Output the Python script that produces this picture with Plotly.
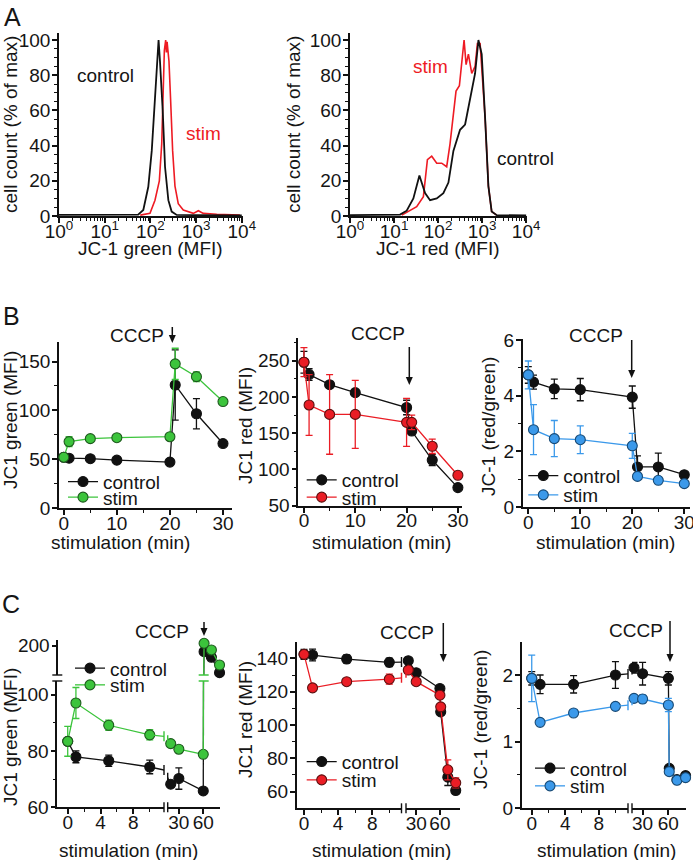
import plotly.graph_objects as go

W, H = 693, 860
def fx(p): return p / W
def fy(p): return 1 - p / H

FONT = "Liberation Sans, Arial, Helvetica, sans-serif"
TXT = "#151515"
BLK = "#111111"
GREEN, GREEN_EDGE = "#3cc43c", "#1e5a1e"
RED, RED_EDGE = "#ea1d25", "#5c1010"
BLUE, BLUE_EDGE = "#3b99ea", "#184a75"
HIST_RED = "#ee1b24"

# ---------------- Panel A: flow histograms ----------------
A_green_ctrl_mfi = [1, 10, 30, 54, 70, 90, 107, 126, 142, 151, 162, 186, 209, 247, 292, 376, 1000, 10000]
A_green_ctrl_pct = [0.6, 0.6, 0.6, 0.8, 3.4, 16.6, 37, 65.7, 88, 100, 88, 60, 28, 9, 2.5, 0.6, 0.5, 0.4]
A_green_stim_mfi = [60, 98, 126, 157, 177, 192, 202, 216, 224, 232, 255, 277, 307, 345, 407, 525, 870, 1120, 1440, 2830, 9100]
A_green_stim_pct = [0.5, 1.5, 9, 20, 41, 75, 94, 100, 93, 99, 88, 66, 37, 17, 7, 3.4, 1.5, 3, 1.5, 1, 0.6]

A_red_ctrl_mfi = [1, 10, 13.7, 19.4, 27.5, 37.7, 50.7, 65.8, 93.3, 132, 172, 223, 316, 411, 534, 693, 826, 980, 1170, 1390, 1650, 2150, 10000]
A_red_ctrl_pct = [0.5, 0.5, 0.8, 3, 10, 23, 13, 9, 10, 13, 19, 37, 49, 52, 66, 81, 100, 92, 56, 17, 2.5, 0.5, 0.3]
A_red_stim_mfi = [15, 17.8, 32.7, 46.4, 57.3, 71.8, 93.3, 121, 157, 187, 223, 256, 305, 345, 390, 433, 489, 582, 693, 783, 901, 1170, 1390, 1650, 2150]
A_red_stim_pct = [0.5, 1.5, 5.3, 11, 32, 34, 30, 30, 28, 41, 58, 71, 74, 88, 100, 86, 92, 81, 85, 98, 98, 56, 17, 2.5, 0.5]

A_xtick_vals = [1, 10, 100, 1000, 10000]
A_xtick_text = ["10<sup>0</sup>", "10<sup>1</sup>", "10<sup>2</sup>", "10<sup>3</sup>", "10<sup>4</sup>"]

# ---------------- Panel B: 30 min time course ----------------
B_time = [0, 1, 5, 10, 20, 21, 25, 30]
B_green_ctrl = [52, 51, 50.5, 49, 47, 126, 96.5, 66]
B_green_ctrl_err = [1, 2, 2, 2, 1, 36, 15.5, 1]
B_green_stim = [52, 68, 71, 72, 73, 147.6, 134.5, 109]
B_green_stim_err = [2, 5, 2, 2, 2, 16, 5, 1]

B_red_ctrl = [248, 231, 217, 206, 185.5, 153, 113, 75]
B_red_ctrl_err = [15, 8, 4, 4, 10, 5, 7.5, 2]
B_red_stim = [248, 189, 176, 176, 165, 165, 132, 92]
B_red_stim_err = [20, 42, 55, 47, 33, 10, 10, 3]

B_ratio_ctrl = [4.75, 4.49, 4.25, 4.22, 3.95, 1.44, 1.44, 1.16]
B_ratio_ctrl_err = [0.3, 0.25, 0.35, 0.4, 0.4, 0.4, 0.5, 0.1]
B_ratio_stim = [4.75, 2.78, 2.46, 2.42, 2.2, 1.1, 0.96, 0.84]
B_ratio_stim_err = [0.5, 0.9, 0.65, 0.5, 0.45, 0.1, 0.1, 0.05]

# ---------------- Panel C: 60 min time course (broken axes) ----------------
C_time = [0, 1, 5, 10, 20, 30, 60, 61, 70, 80]
C_green_ctrl = [83.4, 77.9, 76.5, 74.3, 68.2, 70.2, 65.8, 190, 180.3, 154]
C_green_ctrl_err = [0.5, 2.1, 2, 2.4, 1, 3.8, 0.5, 2, 2, 2]
C_green_stim = [83.4, 97, 89.1, 85.7, 82.6, 80.6, 78.8, 204.3, 192.9, 167.1]
C_green_stim_err = [5.3, 5.5, 1.8, 1.8, 0.5, 0.5, 0.5, 2, 2, 2]

C_red_ctrl = [142.4, 142, 139.6, 137.6, 138.6, 131.4, 121.9, 107.9, 68.7, 60.7]
C_red_ctrl_err = [3, 3.5, 2.5, 2.5, 1, 1.5, 1, 1, 5, 2]
C_red_stim = [142.4, 122.3, 126, 127.5, 133, 126, 117.9, 110.9, 73.1, 65.3]
C_red_stim_err = [1, 1, 1.5, 3, 1, 1, 1, 1, 6, 3]

C_ratio_ctrl = [1.95, 1.86, 1.86, 2.0, 2.11, 2.02, 1.95, 0.6, 0.43, 0.49]
C_ratio_ctrl_err = [0.1, 0.14, 0.13, 0.2, 0.08, 0.17, 0.1, 0.03, 0.03, 0.03]
C_ratio_stim = [1.95, 1.29, 1.43, 1.53, 1.65, 1.64, 1.55, 0.55, 0.42, 0.46]
C_ratio_stim_err = [0.35, 0.03, 0.03, 0.03, 0.04, 0.06, 0.1, 0.03, 0.03, 0.03]

# ---------------- axes ----------------
def axis(dom, rng, horizontal, **kw):
    if horizontal:
        d = dict(domain=[fx(dom[0]), fx(dom[1])], ticklabelstandoff=-8)
    else:
        d = dict(domain=[fy(dom[1]), fy(dom[0])], ticklabelstandoff=-2)
    d.update(range=rng, showline=True, linecolor=BLK, linewidth=1.6, ticks='outside',
             ticklen=5, tickwidth=1.6, tickcolor=BLK, showgrid=False, zeroline=False,
             tickfont=dict(size=19, color=TXT, family=FONT), layer='below traces',
             fixedrange=True, automargin=False, tickangle=0, ticklabeloverflow='allow')
    d.update(kw)
    return d

def minor(vals, length=3):
    return dict(tickvals=vals, ticks='outside', ticklen=length, tickwidth=1.2, tickcolor=BLK)

log_minor = [m * 10 ** k for k in range(4) for m in range(2, 10)]

layout = dict(template='none', width=W, height=H, margin=dict(l=0, r=0, t=0, b=0, autoexpand=False),
              paper_bgcolor='white', plot_bgcolor='white',
              font=dict(family=FONT, size=19, color=TXT))

# A
layout['xaxis'] = axis([59, 242.7], [0, 4.02], True, type='log', anchor='y',
                       tickvals=A_xtick_vals, ticktext=A_xtick_text, minor=minor(log_minor))
layout['yaxis'] = axis([33, 216], [0, 104], False, anchor='x',
                       tickvals=[0, 20, 40, 60, 80, 100], minor=minor(list(range(5, 105, 5))))
layout['xaxis2'] = axis([350, 527], [0, 4.02], True, type='log', anchor='y2',
                        tickvals=A_xtick_vals, ticktext=A_xtick_text, minor=minor(log_minor))
layout['yaxis2'] = axis([33, 216], [0, 104], False, anchor='x2',
                        tickvals=[0, 20, 40, 60, 80, 100], minor=minor(list(range(5, 105, 5))))
# B
layout['xaxis3'] = axis([59, 232], [-0.9, 31.7], True, anchor='y3', tickvals=[0, 10, 20, 30], minor=minor([5, 15, 25]))
layout['yaxis3'] = axis([342, 508], [0, 170], False, anchor='x3', tickvals=[0, 50, 100, 150], minor=minor([25, 75, 125]))
layout['xaxis4'] = axis([298.3, 462], [-1.1, 30.8], True, anchor='y4', tickvals=[0, 10, 20, 30], minor=minor([5, 15, 25]))
layout['yaxis4'] = axis([338.3, 505.7], [50, 281], False, anchor='x4', tickvals=[50, 100, 150, 200, 250], minor=minor([75, 125, 175, 225, 275]))
layout['xaxis5'] = axis([522.7, 690], [-1.08, 31.1], True, anchor='y5', tickvals=[0, 10, 20, 30], minor=minor([5, 15, 25]))
layout['yaxis5'] = axis([339.3, 507], [0, 6.03], False, anchor='x5', tickvals=[0, 2, 4, 6], minor=minor([1, 3, 5]))
# C left
layout['xaxis6'] = axis([57.3, 164], [-1.27, 11.74], True, anchor='y6', tickvals=[0, 4, 8], minor=minor([2, 6, 10]))
layout['xaxis7'] = axis([167.7, 219.7], [16.3, 80.2], True, anchor='y6', tickvals=[30, 60], ticktext=['30', '60'])
layout['yaxis6'] = axis([681, 807.3], [60, 104.8], False, anchor='x6', tickvals=[60, 80, 100], minor=minor([70, 90]))
layout['yaxis7'] = axis([640, 675], [150, 210], False, anchor='free', position=fx(57.3), tickvals=[200])
# C middle
layout['xaxis8'] = axis([296.7, 401.5], [-0.86, 11.43], True, anchor='y8', tickvals=[0, 4, 8], minor=minor([2, 6, 10]))
layout['xaxis9'] = axis([406, 460], [17.1, 85.4], True, anchor='y8', tickvals=[30, 60])
layout['yaxis8'] = axis([641.7, 808.3], [50, 150], False, anchor='x8', tickvals=[60, 80, 100, 120, 140], minor=minor([70, 90, 110, 130]))
# C right
layout['xaxis10'] = axis([521.7, 628], [-1.2, 11.5], True, anchor='y9', tickvals=[0, 4, 8], minor=minor([2, 6, 10]))
layout['xaxis11'] = axis([632, 686], [17.7, 80.5], True, anchor='y9', tickvals=[30, 60])
layout['yaxis9'] = axis([641.7, 808.3], [0, 2.5], False, anchor='x10', tickvals=[0, 1, 2], minor=minor([0.5, 1.5]))

fig = go.Figure()

# ---------------- A traces ----------------
fig.add_trace(go.Scatter(x=A_green_stim_mfi, y=A_green_stim_pct, xaxis='x', yaxis='y', mode='lines',
                         line=dict(color=HIST_RED, width=1.6), showlegend=False))
fig.add_trace(go.Scatter(x=A_green_ctrl_mfi, y=A_green_ctrl_pct, xaxis='x', yaxis='y', mode='lines',
                         line=dict(color=BLK, width=1.8), showlegend=False))
fig.add_trace(go.Scatter(x=A_red_stim_mfi, y=A_red_stim_pct, xaxis='x2', yaxis='y2', mode='lines',
                         line=dict(color=HIST_RED, width=1.6), showlegend=False))
fig.add_trace(go.Scatter(x=A_red_ctrl_mfi, y=A_red_ctrl_pct, xaxis='x2', yaxis='y2', mode='lines',
                         line=dict(color=BLK, width=1.8), showlegend=False))

# ---------------- helpers ----------------
def pick(arr, idx):
    return [arr[i] for i in idx]

def pts(x, y, err, xa, ya, fill, edge, lcolor, name=None, legend=None, mode='lines+markers'):
    tr = dict(x=x, y=y, xaxis=xa, yaxis=ya, mode=mode,
              line=dict(color=lcolor, width=1.3), cliponaxis=False, hoverinfo='skip')
    if 'markers' in mode:
        tr['marker'] = dict(size=10, color=fill, line=dict(color=edge, width=1.1))
        tr['error_y'] = dict(type='data', array=err, color=lcolor, thickness=1.3, width=3.5)
    if legend:
        tr.update(name=name, legend=legend, showlegend=True)
    else:
        tr['showlegend'] = False
    fig.add_trace(go.Scatter(**tr))

# ---------------- B traces ----------------
B_sets = [
    ('x3', 'y3', B_green_ctrl, B_green_ctrl_err, B_green_stim, B_green_stim_err, GREEN, GREEN_EDGE, GREEN, 'legend', 'legend2'),
    ('x4', 'y4', B_red_ctrl, B_red_ctrl_err, B_red_stim, B_red_stim_err, RED, RED_EDGE, RED, 'legend3', 'legend4'),
    ('x5', 'y5', B_ratio_ctrl, B_ratio_ctrl_err, B_ratio_stim, B_ratio_stim_err, BLUE, BLUE_EDGE, BLUE, 'legend5', 'legend6'),
]
for xa, ya, yc, ec, ys, es, fill, edge, lc, lgc, lgs in B_sets:
    pts(B_time, yc, ec, xa, ya, BLK, BLK, BLK, 'control', lgc)
    pts(B_time, ys, es, xa, ya, fill, edge, lc, 'stim', lgs)

# ---------------- C traces (broken axes) ----------------
seg1 = [0, 1, 2, 3]
bridge = [3, 4]
lower2 = [4, 5, 6]
ybridge = [6, 7]
upper2 = [7, 8, 9]
seg2_all = [4, 5, 6, 7, 8, 9]

def c_series(y, err, xa1, xa2, ya, fill, edge, lc, name, legend, ya_up=None):
    pts(pick(C_time, seg1), pick(y, seg1), pick(err, seg1), xa1, ya, fill, edge, lc, name, legend)
    pts(pick(C_time, bridge), pick(y, bridge), None, xa1, ya, fill, edge, lc, mode='lines')
    pts(pick(C_time, bridge), pick(y, bridge), None, xa2, ya, fill, edge, lc, mode='lines')
    if ya_up:
        pts(pick(C_time, lower2), pick(y, lower2), pick(err, lower2), xa2, ya, fill, edge, lc)
        pts(pick(C_time, ybridge), pick(y, ybridge), None, xa2, ya, fill, edge, lc, mode='lines')
        pts(pick(C_time, ybridge), pick(y, ybridge), None, xa2, ya_up, fill, edge, lc, mode='lines')
        pts(pick(C_time, upper2), pick(y, upper2), pick(err, upper2), xa2, ya_up, fill, edge, lc)
    else:
        pts(pick(C_time, seg2_all), pick(y, seg2_all), pick(err, seg2_all), xa2, ya, fill, edge, lc)

c_series(C_green_ctrl, C_green_ctrl_err, 'x6', 'x7', 'y6', BLK, BLK, BLK, 'control', 'legend7', ya_up='y7')
c_series(C_green_stim, C_green_stim_err, 'x6', 'x7', 'y6', GREEN, GREEN_EDGE, GREEN, 'stim', 'legend8', ya_up='y7')
c_series(C_red_ctrl, C_red_ctrl_err, 'x8', 'x9', 'y8', BLK, BLK, BLK, 'control', 'legend9')
c_series(C_red_stim, C_red_stim_err, 'x8', 'x9', 'y8', RED, RED_EDGE, RED, 'stim', 'legend10')
c_series(C_ratio_ctrl, C_ratio_ctrl_err, 'x10', 'x11', 'y9', BLK, BLK, BLK, 'control', 'legend11')
c_series(C_ratio_stim, C_ratio_stim_err, 'x10', 'x11', 'y9', BLUE, BLUE_EDGE, BLUE, 'stim', 'legend12')

# ---------------- break marks ----------------
shapes = []
def vmark(xref, xval, yref, yval, color=BLK, half=5):
    shapes.append(dict(type='line', xref=xref, x0=xval, x1=xval, yref=yref, ysizemode='pixel',
                       yanchor=yval, y0=-half, y1=half, line=dict(color=color, width=1.4)))
def hmark(xref, xval, yref, yval, color=BLK, half=5):
    shapes.append(dict(type='line', yref=yref, y0=yval, y1=yval, xref=xref, xsizemode='pixel',
                       xanchor=xval, x0=-half, x1=half, line=dict(color=color, width=1.4)))

def interp_at(y, xq):
    i, j = bridge
    return y[i] + (y[j] - y[i]) * (xq - C_time[i]) / (C_time[j] - C_time[i])

breaks = [
    ('x6', 'x7', 'y6', [(C_green_ctrl, BLK), (C_green_stim, GREEN)]),
    ('x8', 'x9', 'y8', [(C_red_ctrl, BLK), (C_red_stim, RED)]),
    ('x10', 'x11', 'y9', [(C_ratio_ctrl, BLK), (C_ratio_stim, BLUE)]),
]
for xa1, xa2, ya, series in breaks:
    key1 = 'xaxis' + xa1[1:]
    key2 = 'xaxis' + xa2[1:]
    end1 = layout[key1]['range'][1]
    start2 = layout[key2]['range'][0]
    vmark(xa1 + ' domain', 1, ya + ' domain', 0)
    vmark(xa2 + ' domain', 0, ya + ' domain', 0)
    for y, col in series:
        vmark(xa1 + ' domain', 1, ya, interp_at(y, end1), col)
        vmark(xa2 + ' domain', 0, ya, interp_at(y, start2), col)

# y break on C-left
hmark('x6 domain', 0, 'y6 domain', 1)
hmark('x6 domain', 0, 'y7 domain', 0)
hmark('x7', (C_time[6] + C_time[7]) / 2, 'y6 domain', 1, GREEN)
hmark('x7', (C_time[6] + C_time[7]) / 2, 'y7 domain', 0, GREEN)

# CCCP arrows (shaft + filled head)
def arrow(x, y_head, length):
    shapes.append(dict(type='line', xref='paper', yref='paper', x0=fx(x), x1=fx(x),
                       y0=fy(y_head - length), y1=fy(y_head - 5), line=dict(color=BLK, width=1.5)))
    shapes.append(dict(type='path', xref='paper', yref='paper',
                       path=f"M {fx(x - 3.5)},{fy(y_head - 8)} L {fx(x + 3.5)},{fy(y_head - 8)} L {fx(x)},{fy(y_head)} Z",
                       fillcolor=BLK, line=dict(width=0)))

arrow(172.3, 343, 16)
arrow(409.3, 385, 38)
arrow(631.7, 378, 38)
arrow(204, 636, 14)
arrow(443.3, 662, 39)
arrow(670, 662, 41)
layout['shapes'] = shapes

# ---------------- annotations ----------------
ann = []
def text(x, y, s, size=19, color=TXT, angle=0, xanchor='center'):
    ann.append(dict(x=fx(x), y=fy(y), xref='paper', yref='paper', text=s, showarrow=False,
                    font=dict(size=size, color=color, family=FONT), textangle=angle,
                    xanchor=xanchor, yanchor='middle'))

# panel letters
text(12, 17, 'A', size=25)
text(11, 316, 'B', size=25)
text(11, 604, 'C', size=25)

# A labels
text(105, 76, 'control')
text(203, 133, 'stim', color=HIST_RED)
text(430, 66, 'stim', color=HIST_RED)
text(525, 159, 'control')
text(10, 125, 'cell count (% of max)', angle=-90)
text(293, 125, 'cell count (% of max)', angle=-90)
text(150, 248, 'JC-1 green (MFI)')
text(438, 248, 'JC-1 red (MFI)')

# B labels
text(10, 420, 'JC1 green (MFI)', angle=-90)
text(245, 426, 'JC1 red (MFI)', angle=-90)
text(488, 426, 'JC-1 (red/green)', angle=-90)
for xc in (120, 381, 605):
    text(xc, 542, 'stimulation (min)')
text(137, 335, 'CCCP')
text(378, 333, 'CCCP')
text(596, 335, 'CCCP')

# C labels
text(10, 737, 'JC1 green (MFI)', angle=-90)
text(245, 720, 'JC1 red (MFI)', angle=-90)
text(480, 720, 'JC-1 (red/green)', angle=-90)
for xc in (128, 381, 606):
    text(xc, 850, 'stimulation (min)')
text(162, 631, 'CCCP')
text(407, 632, 'CCCP')
text(636, 630, 'CCCP')
layout['annotations'] = ann

# ---------------- legends (one entry each) ----------------
legend_pos = {
    'legend': (103, 481.7), 'legend2': (103, 497.3),
    'legend3': (341.7, 480), 'legend4': (341.7, 497.3),
    'legend5': (563.3, 475.7), 'legend6': (563.3, 495),
    'legend7': (110, 668.3), 'legend8': (110, 685),
    'legend9': (341.7, 761.7), 'legend10': (341.7, 780),
    'legend11': (570, 768.3), 'legend12': (570, 786),
}
for key, (tx, ty) in legend_pos.items():
    layout[key] = dict(x=fx(tx - 40), y=fy(ty), xanchor='left', yanchor='middle',
                       xref='paper', yref='paper', bgcolor='rgba(0,0,0,0)', borderwidth=0,
                       font=dict(size=19, color=TXT, family=FONT))

fig.update_layout(**layout)
fig.write_html("out.html", config={'displayModeBar': False},
               post_script="document.body.style.margin='0';document.body.style.overflow='hidden';")
